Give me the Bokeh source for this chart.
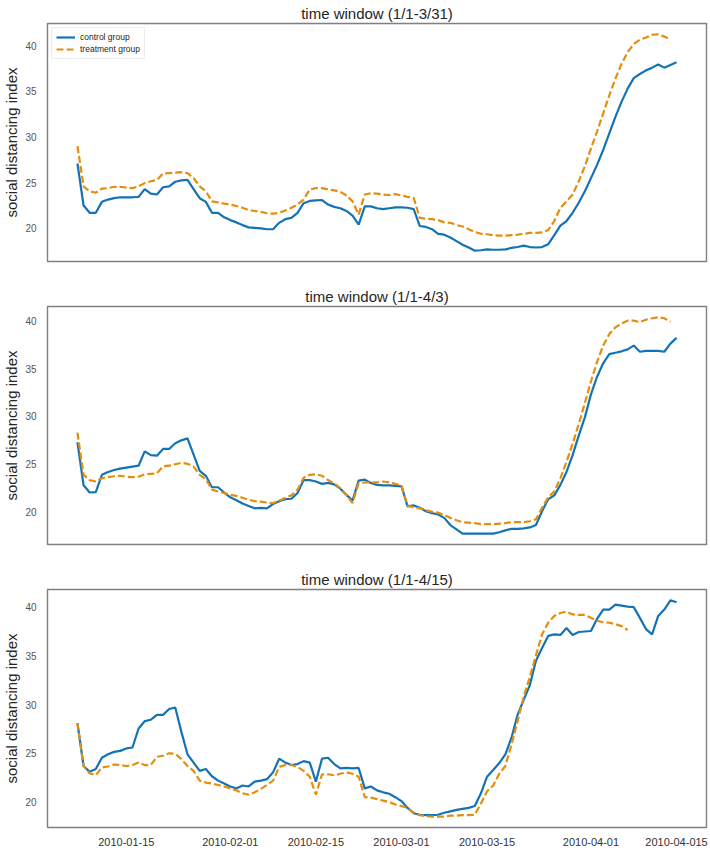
import numpy as np
import pandas as pd
from bokeh.plotting import figure
from bokeh.layouts import column
from bokeh.models import FixedTicker, Legend, LegendItem, Range1d, DataRange1d
from bokeh.embed import file_html
from bokeh.resources import INLINE

# ---------------- data ----------------
start_date = "2010-01-07"

titles = ["time window (1/1-3/31)", "time window (1/1-4/3)", "time window (1/1-4/15)"]

control_1 = [27.1, 22.5, 21.7, 21.7, 22.9, 23.15, 23.3, 23.4, 23.4, 23.4,
             23.45, 24.3, 23.8, 23.7, 24.5, 24.6, 25.1, 25.25, 25.3, 24.3,
             23.3, 22.9, 21.7, 21.7, 21.2, 20.9, 20.65, 20.35, 20.1, 20.05,
             20.0, 19.9, 19.9, 20.6, 21.0, 21.15, 21.7, 22.75, 23.0, 23.05,
             23.1, 22.6, 22.35, 22.2, 21.9, 21.4, 20.4, 22.4, 22.4, 22.2,
             22.1, 22.2, 22.3, 22.3, 22.25, 22.1, 20.25, 20.15, 19.9, 19.4,
             19.3, 19.0, 18.6, 18.2, 17.9, 17.55, 17.6, 17.7, 17.65, 17.65,
             17.7, 17.85, 17.95, 18.1, 17.95, 17.9, 17.95, 18.25, 19.25, 20.3,
             20.8, 21.7, 22.8, 24.05, 25.5, 26.95, 28.6, 30.4, 32.2, 33.85,
             35.3, 36.45, 36.9, 37.3, 37.6, 37.95, 37.6, 37.9, 38.2]
treatment_1 = [29.0, 24.6, 24.05, 23.9, 24.35, 24.4, 24.55, 24.55, 24.45, 24.4,
               24.6, 24.95, 25.15, 25.3, 26.0, 26.05, 26.1, 26.15, 26.05, 25.5,
               24.6, 24.05, 22.95, 22.85, 22.7, 22.6, 22.45, 22.25, 22.0, 21.9,
               21.8, 21.65, 21.6, 21.7, 21.95, 22.25, 22.6, 23.15, 24.25, 24.4,
               24.4, 24.25, 24.15, 24.0, 23.6, 22.95, 21.5, 23.7, 23.85, 23.8,
               23.7, 23.65, 23.75, 23.6, 23.45, 23.35, 21.15, 21.05, 21.0, 20.9,
               20.65, 20.6, 20.35, 20.2, 19.9, 19.6, 19.4, 19.35, 19.25, 19.2,
               19.2, 19.25, 19.3, 19.4, 19.5, 19.5, 19.55, 19.8, 20.8, 22.25,
               22.95, 23.7, 25.15, 26.8, 28.75, 30.6, 32.6, 34.55, 36.4, 38.0,
               39.3, 40.2, 40.65, 40.9, 41.2, 41.25, 41.0, 40.7]

control_2 = [27.3, 22.8, 22.05, 22.1, 23.9, 24.2, 24.4, 24.55, 24.65, 24.75,
             24.85, 26.35, 25.95, 25.9, 26.6, 26.6, 27.2, 27.5, 27.7, 26.0,
             24.3, 23.8, 22.6, 22.6, 22.05, 21.55, 21.25, 20.9, 20.65, 20.4,
             20.45, 20.4, 20.85, 21.15, 21.35, 21.4, 22.0, 23.35, 23.35, 23.2,
             22.95, 23.05, 22.9, 22.45, 21.8, 21.2, 23.3, 23.4, 23.05, 22.85,
             22.8, 22.8, 22.75, 22.7, 20.6, 20.7, 20.45, 20.1, 19.9, 19.75,
             19.4, 18.65, 18.2, 17.75, 17.75, 17.75, 17.75, 17.75, 17.75, 17.9,
             18.1, 18.25, 18.25, 18.3, 18.4, 18.65, 20.1, 21.35, 21.75, 22.85,
             24.2, 25.95, 28.0, 29.9, 32.3, 34.15, 35.55, 36.5, 36.65, 36.8,
             37.0, 37.4, 36.75, 36.85, 36.85, 36.85, 36.75, 37.6, 38.2]
treatment_2 = [28.3, 23.9, 23.35, 23.2, 23.55, 23.65, 23.75, 23.8, 23.7, 23.65,
               23.7, 23.95, 24.0, 24.05, 24.8, 24.85, 25.0, 25.15, 25.05, 24.75,
               23.9, 23.45, 22.35, 22.15, 22.0, 21.8, 21.7, 21.5, 21.3, 21.15,
               21.1, 21.0, 20.95, 21.2, 21.5, 21.75, 22.35, 23.6, 23.9, 23.95,
               23.8, 23.35, 23.0, 22.5, 21.8, 20.95, 23.0, 23.1, 23.1, 23.1,
               23.2, 23.1, 22.95, 22.8, 20.7, 20.5, 20.4, 20.2, 20.05, 19.95,
               19.7, 19.4, 19.15, 18.95, 18.9, 18.85, 18.75, 18.75, 18.75, 18.8,
               18.85, 18.95, 18.95, 18.95, 19.05, 19.25, 20.45, 21.55, 22.15, 23.55,
               25.25, 27.15, 29.2, 31.4, 33.65, 35.7, 37.4, 38.6, 39.3, 39.7,
               40.0, 40.0, 39.85, 40.1, 40.25, 40.35, 40.25, 39.9]

control_3 = [28.1, 23.7, 23.1, 23.4, 24.55, 24.9, 25.15, 25.25, 25.5, 25.6,
             27.55, 28.3, 28.45, 28.95, 28.95, 29.55, 29.7, 27.2, 24.9, 24.05,
             23.2, 23.4, 22.65, 22.2, 21.9, 21.6, 21.4, 21.7, 21.6, 22.1,
             22.2, 22.35, 23.05, 24.45, 24.05, 23.8, 23.9, 24.2, 24.05, 22.1,
             24.45, 24.55, 23.9, 23.45, 23.5, 23.45, 23.5, 21.4, 21.6, 21.2,
             21.0, 20.85, 20.5, 20.1, 19.4, 18.85, 18.7, 18.65, 18.65, 18.7,
             18.9, 19.05, 19.2, 19.3, 19.4, 19.6, 20.9, 22.6, 23.3, 24.0,
             24.9, 26.6, 28.95, 30.5, 32.0, 34.5, 35.8, 37.05, 37.2, 37.15,
             37.85, 37.15, 37.45, 37.5, 37.55, 38.8, 39.75, 39.75, 40.25, 40.15,
             40.05, 40.0, 38.9, 37.75, 37.2, 39.1, 39.75, 40.7, 40.5]
treatment_3 = [28.1, 23.7, 22.95, 22.75, 23.55, 23.65, 23.85, 23.8, 23.7, 23.8,
               24.05, 23.8, 23.8, 24.65, 24.75, 25.0, 24.95, 24.4, 23.7, 23.2,
               22.2, 22.0, 21.9, 21.75, 21.6, 21.4, 21.2, 20.9, 20.75, 21.0,
               21.35, 21.75, 22.2, 23.6, 23.8, 23.8, 23.6, 23.2, 22.6, 20.75,
               22.85, 22.85, 22.75, 22.9, 23.05, 22.9, 22.6, 20.5, 20.45, 20.3,
               20.15, 20.0, 19.75, 19.6, 19.4, 18.9, 18.65, 18.55, 18.5, 18.5,
               18.5, 18.6, 18.6, 18.65, 18.65, 18.7, 19.85, 21.1, 21.7, 22.9,
               23.7, 25.9, 28.3, 30.8, 32.85, 35.05, 37.2, 38.4, 39.1, 39.4,
               39.55, 39.25, 39.2, 39.2, 38.9, 38.6, 38.45, 38.4, 38.25, 38.05,
               37.65]

tick_dates = ["2010-01-15", "2010-02-01", "2010-02-15", "2010-03-01",
              "2010-03-15", "2010-04-01", "2010-04-15"]
tick_labels = ["2010-01-15", "2010-02-01", "2010-02-15", "2010-03-01",
               "2010-03-15", "2010-04-01", "2010-04-015"]
y_ticks = [20, 25, 30, 35, 40]

series_labels = ["control group", "treatment group"]

# ---------------- styling ----------------
BLUE = "#1373B5"
ORANGE = "#E58E0C"
FONT = "Liberation Sans"
FW = 659
FH = 238


def dates_for(vals):
    return pd.date_range(start_date, periods=len(vals), freq="D")


def ms(d):
    return int(pd.Timestamp(d).value // 10**6)


panels = [(control_1, treatment_1), (control_2, treatment_2), (control_3, treatment_3)]

all_dates = [d for c, t in panels for d in list(dates_for(c)) + list(dates_for(t))]
dmin, dmax = min(all_dates), max(all_dates)
pad = (dmax - dmin) * 0.05
x_range = Range1d(start=dmin - pad, end=dmax + pad)

figs = []
for i, ((ctrl, treat), title) in enumerate(zip(panels, titles)):
    last = i == 2
    p = figure(x_axis_type="datetime", x_range=x_range,
               y_range=DataRange1d(range_padding=0.1),
               frame_width=FW, frame_height=FH,
               output_backend="svg", toolbar_location=None, title=title,
               min_border_left=0, min_border_right=3,
               min_border_top=0 if i == 0 else 2,
               min_border_bottom=1 if last else 22)
    p.title.text_font = FONT
    p.title.text_font_size = "15px"
    p.title.text_font_style = "normal"
    p.title.text_color = "#262626"
    p.title.align = "center"
    p.title.standoff = 4

    p.outline_line_color = "#808080"
    p.outline_line_width = 1.4
    p.xgrid.visible = False
    p.ygrid.visible = False
    p.background_fill_color = "white"
    p.border_fill_color = "white"

    r1 = p.line(dates_for(ctrl), ctrl, line_color=BLUE, line_width=2.2)
    r2 = p.line(dates_for(treat), treat, line_color=ORANGE, line_width=2.2,
                line_dash="7 3")

    ya = p.yaxis[0]
    ya.ticker = FixedTicker(ticks=y_ticks)
    ya.axis_label = "social distancing index"
    ya.axis_label_text_font = FONT
    ya.axis_label_text_font_size = "15px"
    ya.axis_label_text_font_style = "normal"
    ya.axis_label_text_color = "#262626"
    ya.axis_label_standoff = 2
    ya.major_label_text_font = FONT
    ya.major_label_text_font_size = "10px"
    ya.major_label_text_color = "#555555"
    ya.major_label_standoff = 5
    ya.axis_line_color = None
    ya.major_tick_line_color = None
    ya.minor_tick_line_color = None

    xa = p.xaxis[0]
    if last:
        xa.ticker = FixedTicker(ticks=[ms(d) for d in tick_dates])
        xa.major_label_overrides = {ms(d): lab for d, lab in zip(tick_dates, tick_labels)}
        xa.major_label_text_font = FONT
        xa.major_label_text_font_size = "11px"
        xa.major_label_text_color = "#333333"
        xa.major_label_standoff = 4
        xa.axis_line_color = None
        xa.major_tick_line_color = None
        xa.minor_tick_line_color = None
    else:
        xa.visible = False

    if i == 0:
        legend = Legend(items=[LegendItem(label=series_labels[0], renderers=[r1]),
                               LegendItem(label=series_labels[1], renderers=[r2])],
                        location="top_left")
        legend.label_text_font = FONT
        legend.label_text_font_size = "8.5px"
        legend.label_text_color = "#262626"
        legend.glyph_width = 19
        legend.glyph_height = 10
        legend.label_height = 10
        legend.label_standoff = 5
        legend.spacing = 2
        legend.padding = 4
        legend.margin = 4
        legend.border_line_color = "#d9d9d9"
        legend.border_line_width = 1
        legend.background_fill_alpha = 1
        p.add_layout(legend)

    figs.append(p)

layout = column(*figs, spacing=0)
open("out.html", "w").write(file_html(layout, INLINE))
